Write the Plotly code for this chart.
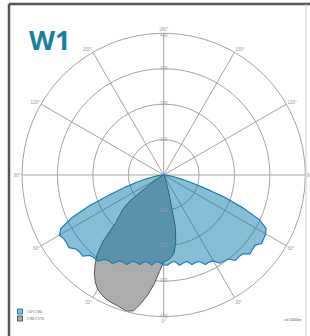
import plotly.graph_objects as go

# ---- data (cd/1000lm), angles measured from nadir ----
angles_fine = [0, 2.5, 5, 7.5, 10, 12.5, 15, 17.5, 20, 22.5, 25, 27.5, 30, 32.5, 35, 37.5,
               40, 42.5, 45, 47.5, 50, 52.5, 55, 57.5, 60, 62.5, 65, 67.5, 70, 72.5, 75,
               77.5, 80, 82.5, 85, 87.5, 90]

c0_values = [279, 272, 270, 282, 276, 275, 288, 284, 285, 301, 298, 301, 318, 316, 320, 337,
             336, 339, 356, 354, 357, 371, 368, 368, 374, 360, 315, 250, 175, 125, 85,
             55, 32, 20, 12, 5, 0]
c180_values = [279, 280, 272, 271, 285, 280, 278, 292, 289, 291, 307, 305, 308, 325, 327, 329,
               346, 345, 347, 363, 360, 358, 371, 368, 366, 358, 328, 265, 200, 128, 82,
               52, 32, 20, 12, 5, 0]

angles_c90 = [0, 2.5, 5, 7.5, 10, 12.5, 15, 17.5, 20, 22.5, 25, 27.5, 30, 32.5, 35, 37.5,
              40, 42.5, 45, 47.5, 50, 52.5, 55, 57.5, 60, 65, 70, 80, 90]
c90_values = [270, 300, 340, 375, 405, 432, 438, 434, 430, 428, 425, 418, 410, 395, 375, 350,
              322, 278, 212, 185, 165, 132, 62, 30, 15, 6, 3, 1, 0]

angles_c270 = [0, 2.5, 5, 7.5, 10, 12.5, 15, 17.5, 20, 25, 30, 40, 60, 90]
c270_values = [270, 265, 258, 245, 215, 170, 75, 40, 25, 12, 6, 3, 1, 0]

series_names = ["C0-C180", "C90-C270"]
radial_ticks = [110, 220, 330, 440]
radial_labels = ["110", "220", "330", "440"]
angular_tickvals = [0, 30, 60, 90, 120, 150, 180, 210, 240, 270, 300, 330]
angular_ticktext = ["0°", "30°", "60°", "90°", "120°", "150°", "180°",
                    "150°", "120°", "90°", "60°", "30°"]
title_text = "W1"
unit_text = "cd/1000lm"

BLUE_FILL = "rgba(0,117,170,0.47)"
BLUE_LINE = "#1a7fb5"
GRAY_FILL = "#adadad"
GRAY_LINE = "#555555"
GRID = "#a3a3a3"


def closed_curve(ang_left, r_left, ang_right, r_right):
    th = list(ang_left) + [360 - a for a in reversed(ang_right)]
    rr = list(r_left) + list(reversed(r_right))
    return th, rr


fig = go.Figure()

th_g, r_g = closed_curve(angles_c90, c90_values, angles_c270, c270_values)
fig.add_trace(go.Scatterpolar(theta=th_g, r=r_g, mode="lines", fill="toself",
                              fillcolor=GRAY_FILL, line=dict(color=GRAY_LINE, width=1),
                              name=series_names[1], hoverinfo="skip"))

th_b, r_b = closed_curve(angles_fine, c0_values, angles_fine, c180_values)
fig.add_trace(go.Scatterpolar(theta=th_b, r=r_b, mode="lines", fill="toself",
                              fillcolor=BLUE_FILL, line=dict(color=BLUE_LINE, width=1.2),
                              name=series_names[0], hoverinfo="skip"))

# radial tick labels along the vertical axis (top and bottom)
top_pos = ["middle center"] * (len(radial_ticks) - 1) + ["bottom center"]
bottom_pos = ["middle center"] * len(radial_ticks)
fig.add_trace(go.Scatterpolar(theta=[180] * len(radial_ticks) + [0] * len(radial_ticks),
                              r=radial_ticks + radial_ticks,
                              text=radial_labels + radial_labels,
                              mode="text", textposition=top_pos + bottom_pos,
                              textfont=dict(size=4.5, color="#9a9a9a", family="Liberation Sans"),
                              hoverinfo="skip", showlegend=False))

fig.update_layout(
    width=310, height=336,
    margin=dict(l=0, r=0, t=0, b=0),
    paper_bgcolor="white",
    showlegend=False,
    polar=dict(
        domain=dict(x=[0.071, 0.985], y=[0.0565, 0.902]),
        bgcolor="white",
        angularaxis=dict(
            rotation=-90, direction="clockwise",
            tickmode="array", tickvals=angular_tickvals, ticktext=angular_ticktext,
            tickfont=dict(size=4.5, color="#9a9a9a", family="Liberation Sans"),
            showline=True, linecolor=GRID, linewidth=1,
            gridcolor=GRID, gridwidth=1, ticks="", layer="above traces",
        ),
        radialaxis=dict(
            range=[0, 440], tickvals=radial_ticks, showticklabels=False,
            showline=False, gridcolor=GRID, gridwidth=1, ticks="",
            layer="above traces",
        ),
    ),
)

# frame
fig.add_shape(type="line", xref="paper", yref="paper", x0=9 / 310, x1=9 / 310, y0=0, y1=1 - 4 / 336,
              line=dict(color="#555555", width=2.5))
fig.add_shape(type="line", xref="paper", yref="paper", x0=9 / 310, x1=1, y0=1 - 4 / 336, y1=1 - 4 / 336,
              line=dict(color="#555555", width=2.5))
fig.add_shape(type="line", xref="paper", yref="paper", x0=306 / 310, x1=306 / 310, y0=0, y1=1 - 4 / 336,
              line=dict(color="#cfcfcf", width=1))

# title
fig.add_annotation(text="<b>%s</b>" % title_text, xref="paper", yref="paper",
                   x=27 / 310, y=1 - 39 / 336, xanchor="left", yanchor="middle",
                   showarrow=False, font=dict(size=27, color="#177fa6", family="Open Sans"))

# legend (custom)
legend_fills = [BLUE_FILL, GRAY_FILL]
legend_lines = [BLUE_LINE, GRAY_LINE]
legend_y = [311.5, 318.5]
for name, fc, lc, yy in zip(series_names, legend_fills, legend_lines, legend_y):
    fig.add_shape(type="rect", xref="paper", yref="paper",
                  x0=17.5 / 310, x1=22.5 / 310, y0=1 - (yy + 2.5) / 336, y1=1 - (yy - 2.5) / 336,
                  fillcolor=fc, line=dict(color=lc, width=1))
    fig.add_annotation(text=name, xref="paper", yref="paper", x=24.5 / 310, y=1 - yy / 336,
                       xanchor="left", yanchor="middle", showarrow=False,
                       font=dict(size=4, color="#555555", family="Liberation Serif"))

fig.add_annotation(text=unit_text, xref="paper", yref="paper", x=304 / 310, y=1 - 319 / 336,
                   xanchor="right", yanchor="middle", showarrow=False,
                   font=dict(size=4, color="#555555", family="Liberation Serif"))

fig.write_html("out.html", config={"displayModeBar": False},
               post_script="document.body.style.margin='0';document.body.style.overflow='hidden';")
